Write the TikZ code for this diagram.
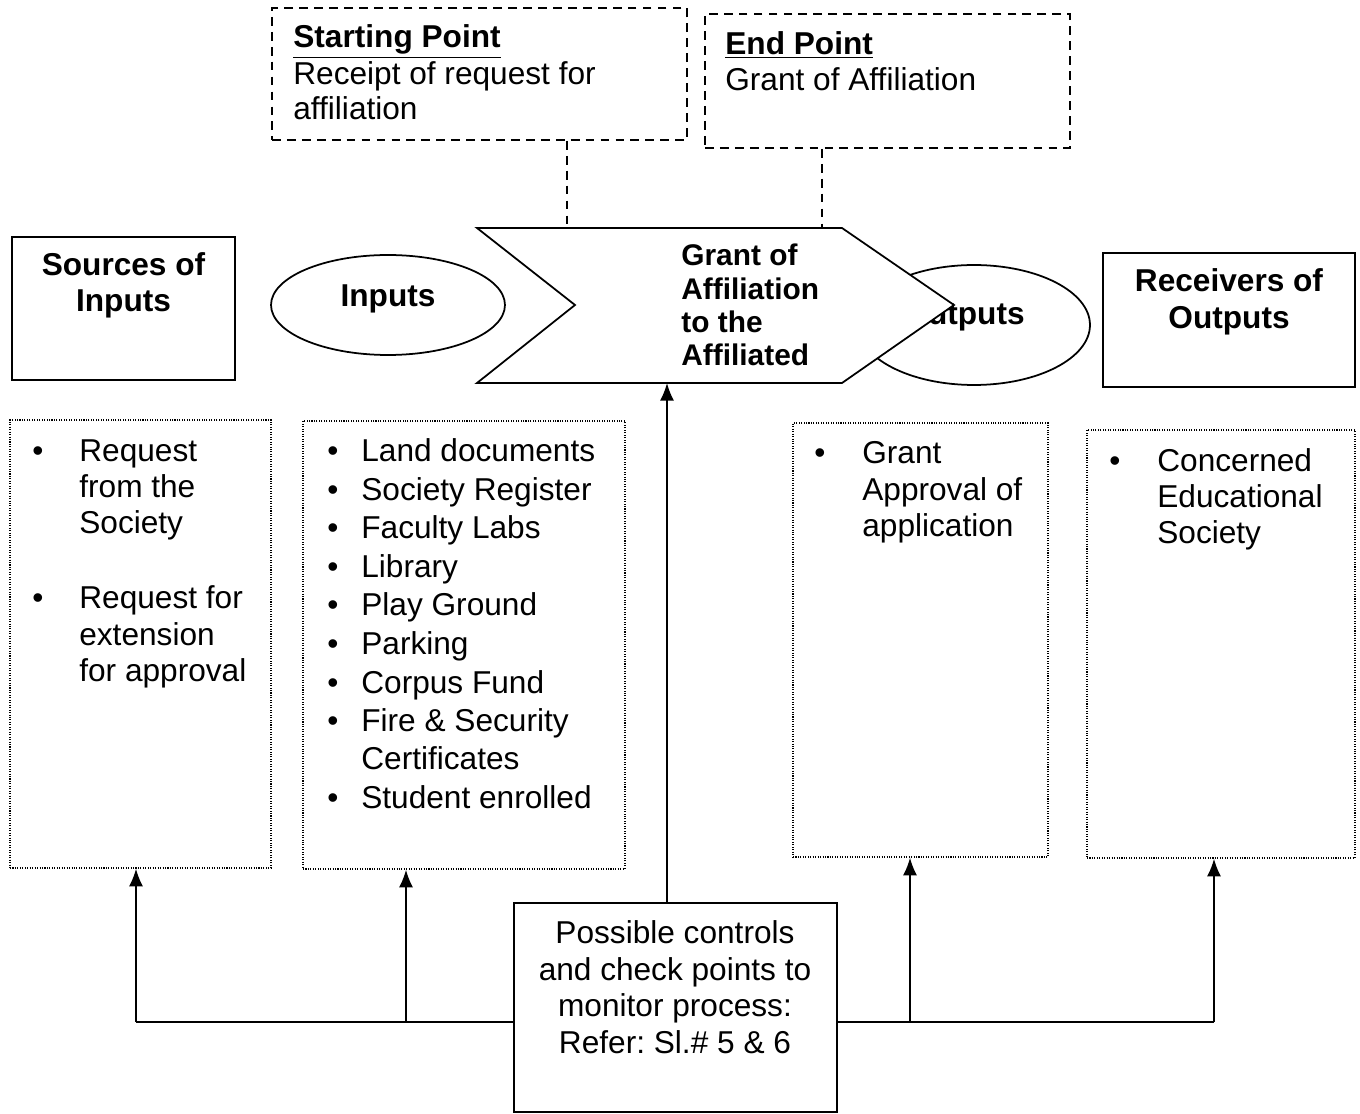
\documentclass[tikz,border=0pt]{standalone}
\usepackage{fontspec}
\setmainfont{Liberation Sans}
\usetikzlibrary{arrows.meta,shapes.geometric}
\frenchspacing
\begin{document}
\begin{tikzpicture}[x=0.02cm,y=-0.02cm,
  txt/.style={inner sep=0pt, anchor=base west, font=\fontsize{18}{21}\selectfont},
  ctxt/.style={inner sep=0pt, anchor=base, font=\fontsize{18}{21}\selectfont},
  btxt/.style={ctxt, font=\fontsize{18}{21}\selectfont\bfseries},
  bltxt/.style={txt, font=\fontsize{18}{21}\selectfont\bfseries},
  proctxt/.style={txt, font=\fontsize{17}{20}\selectfont\bfseries},
  solidbox/.style={draw, line width=1.1pt, rectangle, inner sep=0pt},
  dashbox/.style={draw, line width=1pt, dash pattern=on 5pt off 3.5pt, rectangle, inner sep=0pt},
  dotbox/.style={draw, line width=0.9pt, dash pattern=on 0.6pt off 0.8pt, rectangle, inner sep=0pt},
  oval/.style={draw, ellipse, line width=1pt, inner sep=0pt},
  dashlink/.style={line width=1pt, dash pattern=on 5pt off 3.5pt},
  link/.style={line width=1pt},
  arr/.style={link, -{Latex[length=10pt,width=8pt]}},
]
\fill[white] (0,0) rectangle (1360,1114);
\useasboundingbox (0,0) rectangle (1360,1114);

% start / end point boxes
\node[dashbox, minimum width=8.3cm, minimum height=2.64cm] (start) at (479.5,74) {};
\node[bltxt] (startT) at (293,48) {\underline{Starting Point}};
\node[txt] (startL1) at (293,85) {Receipt of request for};
\node[txt] (startL2) at (293,120) {affiliation};

\node[dashbox, minimum width=7.3cm, minimum height=2.68cm] (endpt) at (887.5,81) {};
\node[bltxt] (endT) at (725,55) {\underline{End Point}};
\node[txt] (endL1) at (725,91) {Grant of Affiliation};

% header boxes and ovals
\node[solidbox, minimum width=4.46cm, minimum height=2.86cm] (src) at (123.5,308.5) {};
\node[btxt] (srcL1) at (123.5,276) {Sources of};
\node[btxt] (srcL2) at (123.5,312) {Inputs};

\node[solidbox, minimum width=5.04cm, minimum height=2.68cm] (recv) at (1229,320) {};
\node[btxt] (recvL1) at (1229,292) {Receivers of};
\node[btxt] (recvL2) at (1229,329) {Outputs};

\node[oval, minimum width=4.68cm, minimum height=2.0cm] (inp) at (388,305) {};
\node[btxt] (inpT) at (388,307) {Inputs};

\node[oval, minimum width=4.64cm, minimum height=2.4cm] (outp) at (974,325) {};
\node[btxt, anchor=base east] (outpT) at (1025,325) {Outputs};

% process chevron
\coordinate (pTopA) at (567,228);
\coordinate (pTopB) at (822,228);
\coordinate (pBot) at (667,383);
\draw[link, fill=white] (477,228) -- (842,228) -- (954,305) -- (842,383) -- (477,383) -- (575,305) -- cycle;
\foreach \y/\t [count=\i] in {266/Grant of, 300/Affiliation, 333/to the, 366/Affiliated}
  \node[proctxt] (proc\i) at (681,\y) {\t};

\draw[dashlink] (start.south -| pTopA) -- (pTopA);
\draw[dashlink] (endpt.south -| pTopB) -- (pTopB);

% detail boxes
\node[dotbox, minimum width=5.22cm, minimum height=8.96cm] (box1) at (140.5,644) {};
\node[dotbox, minimum width=6.44cm, minimum height=8.96cm] (box2) at (464,645) {};
\node[dotbox, minimum width=5.1cm, minimum height=8.68cm] (box3) at (920.5,640) {};
\node[dotbox, minimum width=5.36cm, minimum height=8.56cm] (box4) at (1221,644) {};

\foreach \y [count=\i] in {462,609}
  \node[txt] (b1b\i) at (32,\y) {\textbullet};
\foreach \y/\t [count=\i] in {462/Request, 498/from the, 534/Society, 609/Request for, 646/extension, 682/for approval}
  \node[txt] (b1l\i) at (79,\y) {\t};

\foreach \y [count=\i] in {462,501,539,578,616,655,694,732,808}
  \node[txt] (b2b\i) at (327,\y) {\textbullet};
\foreach \y/\t [count=\i] in {462/Land documents, 501/Society Register, 539/Faculty Labs, 578/Library, 616/Play Ground, 655/Parking, 694/Corpus Fund, 732/{Fire \& Security}, 769/Certificates, 808/Student enrolled}
  \node[txt] (b2l\i) at (361,\y) {\t};

\node[txt] (b3b1) at (814,464) {\textbullet};
\foreach \y/\t [count=\i] in {464/Grant, 501/Approval of, 537/application}
  \node[txt] (b3l\i) at (862,\y) {\t};

\node[txt] (b4b1) at (1109,472) {\textbullet};
\foreach \y/\t [count=\i] in {472/Concerned, 508/Educational, 544/Society}
  \node[txt] (b4l\i) at (1157,\y) {\t};

% controls
\node[solidbox, minimum width=6.46cm, minimum height=4.18cm] (ctrl) at (675.5,1007.5) {};
\foreach \y/\t [count=\i] in {943/Possible controls, 980/and check points to, 1016/monitor process:, 1053/{Refer: Sl.\# 5 \& 6}}
  \node[ctxt] (ctrl\i) at (675,\y) {\t};

\coordinate (busL) at (136,1022);
\coordinate (tap2) at (406,1022);
\coordinate (tap3) at (910,1022);
\coordinate (busR) at (1214,1022);
\draw[link] (busL) -- (busL -| ctrl.west);
\draw[link] (busR) -- (busR -| ctrl.east);
\draw[arr] (busL) -- (busL |- box1.south);
\draw[arr] (tap2) -- (tap2 |- box2.south);
\draw[arr] (tap3) -- (tap3 |- box3.south);
\draw[arr] (busR) -- (busR |- box4.south);
\draw[arr] (ctrl.north -| pBot) -- (pBot);
\end{tikzpicture}
\end{document}
